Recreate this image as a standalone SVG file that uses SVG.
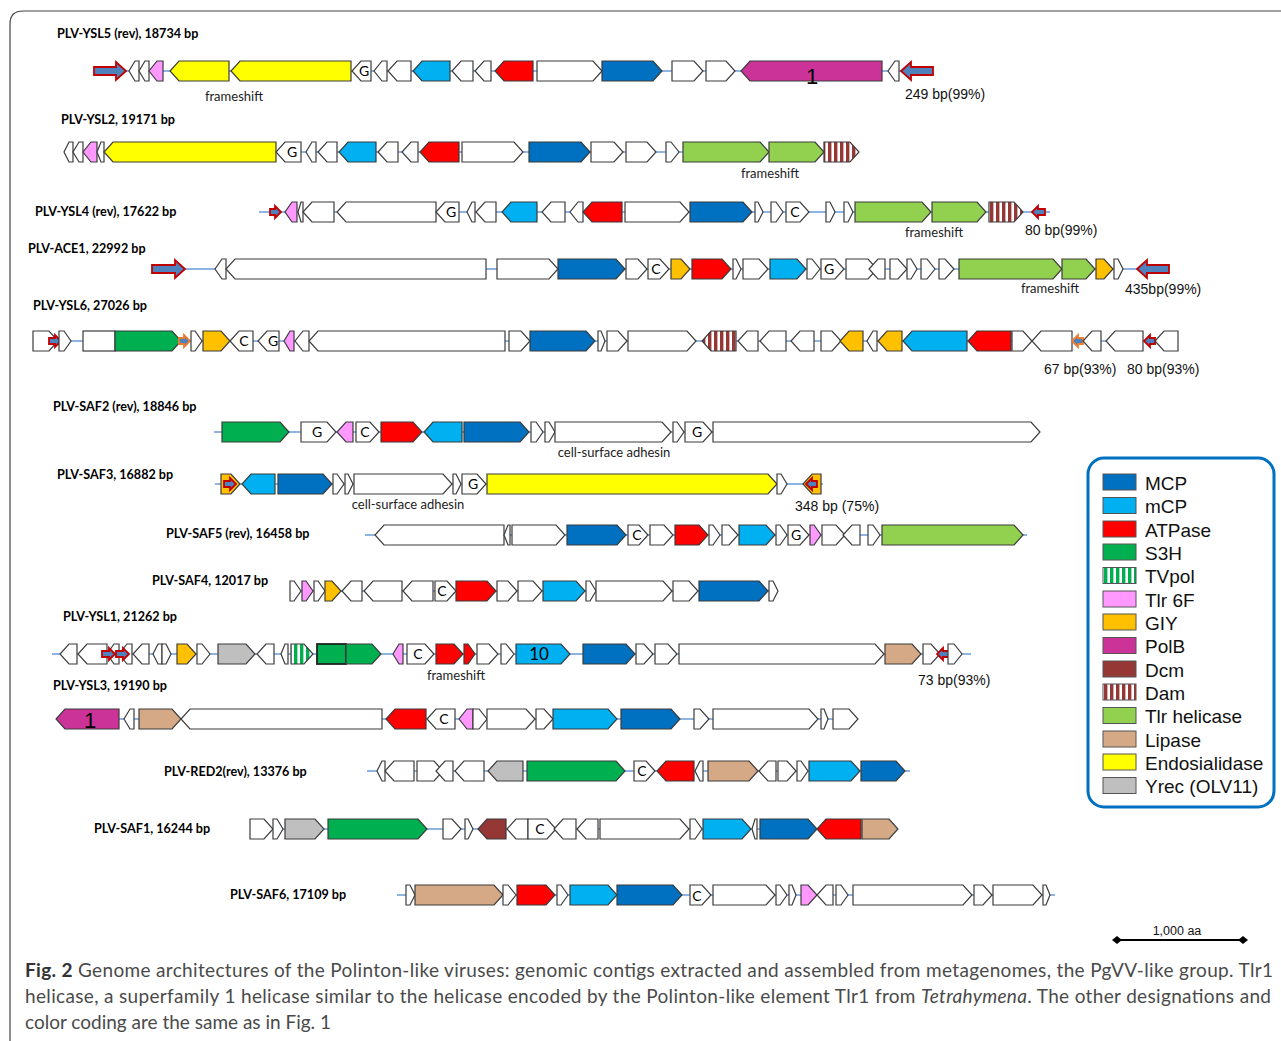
<svg xmlns="http://www.w3.org/2000/svg" width="1281" height="1041" viewBox="0 0 1281 1041">
<defs>
<pattern id="damp" width="6" height="40" patternUnits="userSpaceOnUse" x="0" y="0"><rect width="6" height="40" fill="#fff"/><rect width="3.4" height="40" fill="#953735"/></pattern>
<pattern id="tvp" width="6" height="40" patternUnits="userSpaceOnUse"><rect width="6" height="40" fill="#fff"/><rect width="3.4" height="40" fill="#00B050"/></pattern>
<marker id="dia" viewBox="-5 -5 10 10" markerWidth="10" markerHeight="10" refX="0" refY="0" markerUnits="userSpaceOnUse" orient="auto"><polygon points="-5,0 0,-4 5,0 0,4" fill="#000"/></marker>
<style>
.g{stroke:#3b3b3b;stroke-width:1.2;stroke-linejoin:miter}
.w{fill:#fff}.mcp{fill:#0070C0}.mcpl{fill:#00B0F0}.atp{fill:#FF0000}.s3h{fill:#00B050}.tv{fill:url(#tvp)}
.t6f{fill:#FF99FF}.giy{fill:#FFC000}.polb{fill:#CC3399}.dcm{fill:#953735}.dam{fill:url(#damp)}
.tlr{fill:#92D050}.lip{fill:#D5A985}.endo{fill:#FFFF00}.yrec{fill:#BFBFBF}
.ra{fill:#4F81BD;stroke:#C00000;stroke-width:1.8}
.oa{fill:#4F81BD;stroke:#ED7D31;stroke-width:1.8}
.bb line{stroke:#6A9BD8;stroke-width:1.5}
.ttl{font-family:Lato,"Liberation Sans",sans-serif;font-weight:bold;font-size:12.6px;fill:#000}
.fs{font-family:Lato,"Liberation Sans",sans-serif;font-size:13px;fill:#222;text-anchor:middle}
.num{font-family:"Liberation Sans",Arial,sans-serif;font-size:14px;fill:#111}
.gl{font-family:Lato,"Liberation Sans",sans-serif;font-size:14px;fill:#000;text-anchor:middle}
.big{font-family:"Liberation Sans",Arial,sans-serif;font-size:22px;fill:#000;text-anchor:middle}
.lg{font-family:"Liberation Sans",Arial,sans-serif;font-size:19px;fill:#111}
.sw{stroke:#555;stroke-width:1}
.cap{font-family:Lato,"Liberation Sans",sans-serif;font-size:19px;fill:#4a4a4a}
</style>
</defs>
<rect width="1281" height="1041" fill="#fff"/>
<path d="M10,1041V24Q10,11 23,11H1281" fill="none" stroke="#444" stroke-width="1.2"/>

<g id="backbones" class="bb">
<line x1="126" y1="71" x2="901" y2="71"/>
<line x1="64" y1="152" x2="859" y2="152"/>
<line x1="259" y1="212" x2="1050" y2="212"/>
<line x1="185" y1="269" x2="1137" y2="269"/>
<line x1="33" y1="341" x2="1178" y2="341"/>
<line x1="214" y1="432" x2="1040" y2="432"/>
<line x1="215" y1="484" x2="823" y2="484"/>
<line x1="365" y1="535" x2="1027" y2="535"/>
<line x1="290" y1="591" x2="778" y2="591"/>
<line x1="52" y1="654" x2="971" y2="654"/>
<line x1="56" y1="719" x2="858" y2="719"/>
<line x1="367" y1="771" x2="910" y2="771"/>
<line x1="250" y1="829" x2="898" y2="829"/>
<line x1="397" y1="895" x2="1055" y2="895"/>
</g>

<g id="row-YSL5">
<text class="ttl" x="57" y="38">PLV-YSL5 (rev), 18734 bp</text>
<text class="fs" x="234" y="101">frameshift</text>
<text class="num" x="905" y="99">249 bp(99%)</text>
<g transform="translate(0,71)">
<path class="ra" d="M94,-4H116V-9L126,0L116,9V4H94Z"/>
<polygon class="g w" points="139,-10 135,-10 129,0 135,10 139,10"/>
<polygon class="g w" points="149,-10 145,-10 139,0 145,10 149,10"/>
<polygon class="g t6f" points="163,-10 157,-10 149,0 157,10 163,10"/>
<polygon class="g endo" points="229,-10 179,-10 170,0 179,10 229,10"/>
<polygon class="g endo" points="351,-10 240,-10 231,0 240,10 351,10"/>
<polygon class="g w" points="371,-10 361,-10 352,0 361,10 371,10"/><text class="gl" x="364" y="5">G</text>
<polygon class="g w" points="387,-10 382,-10 374,0 382,10 387,10"/>
<polygon class="g w" points="411,-10 397,-10 388,0 397,10 411,10"/>
<polygon class="g mcpl" points="450,-10 422,-10 413,0 422,10 450,10"/>
<polygon class="g w" points="473,-10 461,-10 452,0 461,10 473,10"/>
<polygon class="g w" points="491,-10 484,-10 475,0 484,10 491,10"/>
<polygon class="g atp" points="533,-10 504,-10 495,0 504,10 533,10"/>
<polygon class="g w" points="537,-10 593,-10 602,0 593,10 537,10"/>
<polygon class="g mcp" points="602,-10 653,-10 662,0 653,10 602,10"/>
<polygon class="g w" points="672,-10 694,-10 703,0 694,10 672,10"/>
<polygon class="g w" points="706,-10 726,-10 735,0 726,10 706,10"/>
<polygon class="g polb" points="882,-10 750,-10 741,0 750,10 882,10"/><text class="big" x="812" y="13">1</text>
<polygon class="g w" points="899,-10 895,-10 888,0 895,10 899,10"/>
<path class="ra" d="M933,-4H911V-9L901,0L911,9V4H933Z"/>
</g>
</g>

<g id="row-YSL2">
<text class="ttl" x="61" y="124">PLV-YSL2, 19171 bp</text>
<text class="fs" x="770" y="178">frameshift</text>
<g transform="translate(0,152)">
<polygon class="g w" points="73,-10 69,-10 64,0 69,10 73,10"/>
<polygon class="g w" points="83,-10 79,-10 73,0 79,10 83,10"/>
<polygon class="g t6f" points="97,-10 91,-10 83,0 91,10 97,10"/>
<polygon class="g w" points="104,-10 101,-10 97,0 101,10 104,10"/>
<polygon class="g endo" points="276,-10 113,-10 104,0 113,10 276,10"/>
<polygon class="g w" points="301,-10 285,-10 276,0 285,10 301,10"/><text class="gl" x="292" y="5">G</text>
<polygon class="g w" points="316,-10 312,-10 306,0 312,10 316,10"/>
<polygon class="g w" points="337,-10 327,-10 318,0 327,10 337,10"/>
<polygon class="g mcpl" points="376,-10 348,-10 339,0 348,10 376,10"/>
<polygon class="g w" points="398,-10 387,-10 378,0 387,10 398,10"/>
<polygon class="g w" points="418,-10 411,-10 402,0 411,10 418,10"/>
<polygon class="g atp" points="459,-10 429,-10 420,0 429,10 459,10"/>
<polygon class="g w" points="462,-10 514,-10 523,0 514,10 462,10"/>
<polygon class="g mcp" points="529,-10 581,-10 590,0 581,10 529,10"/>
<polygon class="g w" points="591,-10 614,-10 623,0 614,10 591,10"/>
<polygon class="g w" points="626,-10 647,-10 656,0 647,10 626,10"/>
<polygon class="g w" points="666,-10 671,-10 679,0 671,10 666,10"/>
<polygon class="g tlr" points="683,-10 760,-10 769,0 760,10 683,10"/>
<polygon class="g tlr" points="769,-10 815,-10 824,0 815,10 769,10"/>
<polygon class="g dam" points="824,-10 850,-10 859,0 850,10 824,10"/>
</g>
</g>

<g id="row-YSL4">
<text class="ttl" x="35" y="216">PLV-YSL4 (rev), 17622 bp</text>
<text class="fs" x="934" y="237">frameshift</text>
<text class="num" x="1025" y="235">80 bp(99%)</text>
<g transform="translate(0,212)">
<path class="ra" d="M270,-3H275V-6L281,0L275,6V3H270Z"/>
<polygon class="g t6f" points="297,-10 292,-10 285,0 292,10 297,10"/>
<polygon class="g w" points="303,-10 301,-10 298,0 301,10 303,10"/>
<polygon class="g w" points="334,-10 312,-10 303,0 312,10 334,10"/>
<polygon class="g w" points="436,-10 346,-10 337,0 346,10 436,10"/>
<polygon class="g w" points="459,-10 445,-10 436,0 445,10 459,10"/><text class="gl" x="451" y="5">G</text>
<polygon class="g w" points="475,-10 472,-10 467,0 472,10 475,10"/>
<polygon class="g w" points="496,-10 485,-10 476,0 485,10 496,10"/>
<polygon class="g mcpl" points="537,-10 511,-10 502,0 511,10 537,10"/>
<polygon class="g w" points="565,-10 551,-10 542,0 551,10 565,10"/>
<polygon class="g w" points="583,-10 578,-10 570,0 578,10 583,10"/>
<polygon class="g atp" points="622,-10 592,-10 583,0 592,10 622,10"/>
<polygon class="g w" points="625,-10 680,-10 689,0 680,10 625,10"/>
<polygon class="g mcp" points="690,-10 743,-10 752,0 743,10 690,10"/>
<polygon class="g w" points="755,-10 758,-10 763,0 758,10 755,10"/>
<polygon class="g w" points="771,-10 776,-10 783,0 776,10 771,10"/>
<polygon class="g w" points="786,-10 800,-10 809,0 800,10 786,10"/><text class="gl" x="795" y="5">C</text>
<polygon class="g w" points="826,-10 830,-10 835,0 830,10 826,10"/>
<polygon class="g w" points="844,-10 848,-10 853,0 848,10 844,10"/>
<polygon class="g tlr" points="855,-10 922,-10 931,0 922,10 855,10"/>
<polygon class="g tlr" points="932,-10 977,-10 986,0 977,10 932,10"/>
<polygon class="g dam" points="989,-10 1014,-10 1023,0 1014,10 989,10"/>
<path class="ra" d="M1045,-3H1038V-6L1032,0L1038,6V3H1045Z"/>
</g>
</g>

<g id="row-ACE1">
<text class="ttl" x="28" y="253">PLV-ACE1, 22992 bp</text>
<text class="fs" x="1050" y="293">frameshift</text>
<text class="num" x="1125" y="294">435bp(99%)</text>
<g transform="translate(0,269)">
<path class="ra" d="M152,-4H175V-9L185,0L175,9V4H152Z"/>
<polygon class="g w" points="226,-10 222,-10 215,0 222,10 226,10"/>
<polygon class="g w" points="486,-10 235,-10 226,0 235,10 486,10"/>
<polygon class="g w" points="497,-10 549,-10 558,0 549,10 497,10"/>
<polygon class="g mcp" points="558,-10 616,-10 625,0 616,10 558,10"/>
<polygon class="g w" points="626,-10 638,-10 647,0 638,10 626,10"/>
<polygon class="g w" points="648,-10 660,-10 669,0 660,10 648,10"/><text class="gl" x="656" y="5">C</text>
<polygon class="g giy" points="671,-10 681,-10 690,0 681,10 671,10"/>
<polygon class="g atp" points="692,-10 722,-10 731,0 722,10 692,10"/>
<polygon class="g w" points="733,-10 736,-10 741,0 736,10 733,10"/>
<polygon class="g w" points="743,-10 759,-10 768,0 759,10 743,10"/>
<polygon class="g mcpl" points="770,-10 797,-10 806,0 797,10 770,10"/>
<polygon class="g w" points="807,-10 812,-10 820,0 812,10 807,10"/>
<polygon class="g w" points="821,-10 835,-10 844,0 835,10 821,10"/><text class="gl" x="829" y="5">G</text>
<polygon class="g w" points="846,-10 868,-10 877,0 868,10 846,10"/>
<polygon class="g w" points="885,-10 878,-10 869,0 878,10 885,10"/>
<polygon class="g w" points="890,-10 898,-10 907,0 898,10 890,10"/>
<polygon class="g w" points="907,-10 911,-10 917,0 911,10 907,10"/>
<polygon class="g w" points="921,-10 927,-10 935,0 927,10 921,10"/>
<polygon class="g w" points="939,-10 945,-10 954,0 945,10 939,10"/>
<polygon class="g tlr" points="959,-10 1053,-10 1062,0 1053,10 959,10"/>
<polygon class="g tlr" points="1062,-10 1086,-10 1095,0 1086,10 1062,10"/>
<polygon class="g giy" points="1096,-10 1104,-10 1113,0 1104,10 1096,10"/>
<polygon class="g w" points="1114,-10 1118,-10 1123,0 1118,10 1114,10"/>
<path class="ra" d="M1169,-4H1147V-9L1137,0L1147,9V4H1169Z"/>
</g>
</g>

<g id="row-YSL6">
<text class="ttl" x="33" y="310">PLV-YSL6, 27026 bp</text>
<text class="num" x="1044" y="374">67 bp(93%)</text>
<text class="num" x="1127" y="374">80 bp(93%)</text>
<g transform="translate(0,341)">
<polygon class="g w" points="33,-10 49,-10 58,0 49,10 33,10"/>
<path class="ra" d="M49,-3H55V-6L61,0L55,6V3H49Z"/>
<polygon class="g w" points="59,-10 64,-10 71,0 64,10 59,10"/>
<rect class="g w" x="83" y="-10" width="32" height="20"/>
<polygon class="g s3h" points="115,-10 172,-10 181,0 172,10 115,10"/>
<path class="oa" d="M179,-3H184V-6L190,0L184,6V3H179Z"/>
<polygon class="g w" points="191,-10 195,-10 202,0 195,10 191,10"/>
<polygon class="g giy" points="203,-10 221,-10 230,0 221,10 203,10"/>
<polygon class="g w" points="253,-10 239,-10 230,0 239,10 253,10"/><text class="gl" x="244" y="5">C</text>
<polygon class="g w" points="279,-10 267,-10 258,0 267,10 279,10"/><text class="gl" x="273" y="5">G</text>
<polygon class="g t6f" points="294,-10 290,-10 284,0 290,10 294,10"/>
<polygon class="g w" points="309,-10 303,-10 295,0 303,10 309,10"/>
<polygon class="g w" points="505,-10 318,-10 309,0 318,10 505,10"/>
<polygon class="g w" points="509,-10 521,-10 530,0 521,10 509,10"/>
<polygon class="g mcp" points="530,-10 586,-10 595,0 586,10 530,10"/>
<polygon class="g w" points="598,-10 601,-10 605,0 601,10 598,10"/>
<polygon class="g w" points="607,-10 618,-10 627,0 618,10 607,10"/>
<polygon class="g w" points="628,-10 687,-10 696,0 687,10 628,10"/>
<polygon class="g dam" points="736,-10 711,-10 702,0 711,10 736,10"/>
<polygon class="g w" points="758,-10 747,-10 738,0 747,10 758,10"/>
<polygon class="g w" points="786,-10 769,-10 760,0 769,10 786,10"/>
<polygon class="g w" points="814,-10 800,-10 791,0 800,10 814,10"/>
<polygon class="g w" points="821,-10 832,-10 841,0 832,10 821,10"/>
<polygon class="g giy" points="863,-10 849,-10 840,0 849,10 863,10"/>
<polygon class="g w" points="877,-10 873,-10 867,0 873,10 877,10"/>
<polygon class="g giy" points="902,-10 887,-10 878,0 887,10 902,10"/>
<polygon class="g mcpl" points="967,-10 912,-10 903,0 912,10 967,10"/>
<polygon class="g atp" points="1011,-10 977,-10 968,0 977,10 1011,10"/>
<polygon class="g w" points="1012,-10 1023,-10 1032,0 1023,10 1012,10"/>
<polygon class="g w" points="1072,-10 1041,-10 1032,0 1041,10 1072,10"/>
<path class="oa" d="M1083,-3H1078V-6L1072,0L1078,6V3H1083Z"/>
<polygon class="g w" points="1101,-10 1092,-10 1083,0 1092,10 1101,10"/>
<polygon class="g w" points="1143,-10 1115,-10 1106,0 1115,10 1143,10"/>
<path class="ra" d="M1155,-3H1150V-6L1144,0L1150,6V3H1155Z"/>
<polygon class="g w" points="1178,-10 1164,-10 1155,0 1164,10 1178,10"/>
</g>
</g>

<g id="row-SAF2">
<text class="ttl" x="53" y="411">PLV-SAF2 (rev), 18846 bp</text>
<text class="fs" x="614" y="457">cell-surface adhesin</text>
<g transform="translate(0,432)">
<polygon class="g s3h" points="222,-10 280,-10 289,0 280,10 222,10"/>
<polygon class="g w" points="301,-10 327,-10 336,0 327,10 301,10"/><text class="gl" x="317" y="5">G</text>
<polygon class="g t6f" points="353,-10 346,-10 337,0 346,10 353,10"/>
<polygon class="g w" points="356,-10 370,-10 379,0 370,10 356,10"/><text class="gl" x="365" y="5">C</text>
<polygon class="g atp" points="381,-10 413,-10 422,0 413,10 381,10"/>
<polygon class="g mcpl" points="462,-10 433,-10 424,0 433,10 462,10"/>
<polygon class="g mcp" points="464,-10 520,-10 529,0 520,10 464,10"/>
<polygon class="g w" points="531,-10 536,-10 543,0 536,10 531,10"/>
<polygon class="g w" points="545,-10 549,-10 555,0 549,10 545,10"/>
<polygon class="g w" points="555,-10 662,-10 671,0 662,10 555,10"/>
<polygon class="g w" points="673,-10 677,-10 684,0 677,10 673,10"/>
<polygon class="g w" points="685,-10 703,-10 712,0 703,10 685,10"/><text class="gl" x="697" y="5">G</text>
<polygon class="g w" points="713,-10 1031,-10 1040,0 1031,10 713,10"/>
</g>
</g>

<g id="row-SAF3">
<text class="ttl" x="57" y="479">PLV-SAF3, 16882 bp</text>
<text class="fs" x="408" y="509">cell-surface adhesin</text>
<text class="num" x="795" y="511">348 bp (75%)</text>
<g transform="translate(0,484)">
<polygon class="g giy" points="221,-10 231,-10 240,0 231,10 221,10"/>
<path class="ra" d="M224,-3H230V-6L236,0L230,6V3H224Z"/>
<polygon class="g mcpl" points="275,-10 251,-10 242,0 251,10 275,10"/>
<polygon class="g mcp" points="278,-10 323,-10 332,0 323,10 278,10"/>
<polygon class="g w" points="333,-10 337,-10 344,0 337,10 333,10"/>
<polygon class="g w" points="345,-10 348,-10 353,0 348,10 345,10"/>
<polygon class="g w" points="354,-10 443,-10 452,0 443,10 354,10"/>
<polygon class="g w" points="453,-10 456,-10 461,0 456,10 453,10"/>
<polygon class="g w" points="462,-10 477,-10 486,0 477,10 462,10"/><text class="gl" x="473" y="5">G</text>
<polygon class="g endo" points="487,-10 768,-10 777,0 768,10 487,10"/>
<polygon class="g w" points="777,-10 781,-10 787,0 781,10 777,10"/>
<polygon class="g giy" points="821,-10 812,-10 803,0 812,10 821,10"/>
<path class="ra" d="M817,-3H812V-6L806,0L812,6V3H817Z"/>
</g>
</g>

<g id="row-SAF5">
<text class="ttl" x="166" y="538">PLV-SAF5 (rev), 16458 bp</text>
<g transform="translate(0,535)">
<polygon class="g w" points="504,-10 384,-10 375,0 384,10 504,10"/>
<polygon class="g w" points="510,-10 508,-10 504,0 508,10 510,10"/>
<polygon class="g w" points="512,-10 556,-10 565,0 556,10 512,10"/>
<polygon class="g mcp" points="567,-10 617,-10 626,0 617,10 567,10"/>
<polygon class="g w" points="628,-10 639,-10 648,0 639,10 628,10"/><text class="gl" x="637" y="5">C</text>
<polygon class="g w" points="650,-10 664,-10 673,0 664,10 650,10"/>
<polygon class="g atp" points="675,-10 699,-10 708,0 699,10 675,10"/>
<polygon class="g w" points="709,-10 713,-10 720,0 713,10 709,10"/>
<polygon class="g w" points="722,-10 729,-10 738,0 729,10 722,10"/>
<polygon class="g mcpl" points="739,-10 766,-10 775,0 766,10 739,10"/>
<polygon class="g w" points="776,-10 780,-10 787,0 780,10 776,10"/>
<polygon class="g w" points="788,-10 800,-10 809,0 800,10 788,10"/><text class="gl" x="796" y="5">G</text>
<polygon class="g t6f" points="810,-10 814,-10 821,0 814,10 810,10"/>
<polygon class="g w" points="822,-10 836,-10 845,0 836,10 822,10"/>
<polygon class="g w" points="860,-10 852,-10 843,0 852,10 860,10"/>
<polygon class="g w" points="868,-10 873,-10 880,0 873,10 868,10"/>
<polygon class="g tlr" points="882,-10 1014,-10 1023,0 1014,10 882,10"/>
</g>
</g>

<g id="row-SAF4">
<text class="ttl" x="152" y="585">PLV-SAF4, 12017 bp</text>
<g transform="translate(0,591)">
<polygon class="g w" points="290,-10 294,-10 301,0 294,10 290,10"/>
<polygon class="g t6f" points="302,-10 306,-10 313,0 306,10 302,10"/>
<polygon class="g w" points="314,-10 318,-10 325,0 318,10 314,10"/>
<polygon class="g giy" points="325,-10 332,-10 341,0 332,10 325,10"/>
<polygon class="g w" points="362,-10 351,-10 342,0 351,10 362,10"/>
<polygon class="g w" points="402,-10 373,-10 364,0 373,10 402,10"/>
<polygon class="g w" points="433,-10 412,-10 403,0 412,10 433,10"/>
<polygon class="g w" points="435,-10 447,-10 456,0 447,10 435,10"/><text class="gl" x="442" y="5">C</text>
<polygon class="g atp" points="456,-10 487,-10 496,0 487,10 456,10"/>
<polygon class="g w" points="497,-10 508,-10 517,0 508,10 497,10"/>
<polygon class="g w" points="518,-10 533,-10 542,0 533,10 518,10"/>
<polygon class="g mcpl" points="543,-10 576,-10 585,0 576,10 543,10"/>
<polygon class="g w" points="586,-10 590,-10 596,0 590,10 586,10"/>
<polygon class="g w" points="596,-10 663,-10 672,0 663,10 596,10"/>
<polygon class="g w" points="673,-10 689,-10 698,0 689,10 673,10"/>
<polygon class="g mcp" points="699,-10 759,-10 768,0 759,10 699,10"/>
<polygon class="g w" points="769,-10 773,-10 778,0 773,10 769,10"/>
</g>
</g>

<g id="row-YSL1">
<text class="ttl" x="63" y="621">PLV-YSL1, 21262 bp</text>
<text class="fs" x="456" y="680">frameshift</text>
<text class="num" x="918" y="685">73 bp(93%)</text>
<g transform="translate(0,654)">
<polygon class="g w" points="77,-10 69,-10 60,0 69,10 77,10"/>
<polygon class="g w" points="107,-10 87,-10 78,0 87,10 107,10"/>
<polygon class="g w" points="119,-10 114,-10 107,0 114,10 119,10"/>
<polygon class="g w" points="132,-10 127,-10 119,0 127,10 132,10"/>
<path class="ra" d="M102,-3H109V-6L115,0L109,6V3H102Z"/>
<path class="ra" d="M116,-3H123V-6L129,0L123,6V3H116Z"/>
<polygon class="g w" points="149,-10 142,-10 133,0 142,10 149,10"/>
<polygon class="g w" points="162,-10 158,-10 153,0 158,10 162,10"/>
<polygon class="g w" points="162,-10 166,-10 171,0 166,10 162,10"/>
<polygon class="g giy" points="177,-10 187,-10 196,0 187,10 177,10"/>
<polygon class="g w" points="197,-10 202,-10 210,0 202,10 197,10"/>
<polygon class="g yrec" points="218,-10 246,-10 255,0 246,10 218,10"/>
<polygon class="g w" points="274,-10 266,-10 257,0 266,10 274,10"/>
<polygon class="g w" points="288,-10 285,-10 281,0 285,10 288,10"/>
<polygon class="g tv" points="291,-10 304,-10 313,0 304,10 291,10"/>
<rect class="s3h" x="317" y="-10" width="29" height="20" stroke="#222" stroke-width="1.8"/>
<polygon class="g s3h" points="346,-10 372,-10 381,0 372,10 346,10"/>
<polygon class="g t6f" points="403,-10 399,-10 393,0 399,10 403,10"/>
<polygon class="g w" points="407,-10 425,-10 434,0 425,10 407,10"/><text class="gl" x="418" y="5">C</text>
<polygon class="g atp" points="436,-10 454,-10 463,0 454,10 436,10"/>
<polygon class="g atp" points="464,-10 468,-10 475,0 468,10 464,10"/>
<polygon class="g w" points="477,-10 489,-10 498,0 489,10 477,10"/>
<polygon class="g w" points="501,-10 506,-10 514,0 506,10 501,10"/>
<polygon class="g mcpl" points="516,-10 561,-10 570,0 561,10 516,10"/><text class="gl" x="539" y="6" style="font-size:17px">10</text>
<polygon class="g mcp" points="583,-10 626,-10 635,0 626,10 583,10"/>
<polygon class="g w" points="636,-10 644,-10 653,0 644,10 636,10"/>
<polygon class="g w" points="655,-10 668,-10 677,0 668,10 655,10"/>
<polygon class="g w" points="679,-10 875,-10 884,0 875,10 679,10"/>
<polygon class="g lip" points="885,-10 912,-10 921,0 912,10 885,10"/>
<polygon class="g w" points="923,-10 931,-10 940,0 931,10 923,10"/>
<path class="ra" d="M951,-3H943V-6L937,0L943,6V3H951Z"/>
<polygon class="g w" points="948,-10 954,-10 962,0 954,10 948,10"/>
</g>
</g>

<g id="row-YSL3">
<text class="ttl" x="53" y="690">PLV-YSL3, 19190 bp</text>
<g transform="translate(0,719)">
<polygon class="g polb" points="119,-10 65,-10 56,0 65,10 119,10"/><text class="big" x="90" y="9">1</text>
<polygon class="g w" points="134,-10 130,-10 124,0 130,10 134,10"/>
<polygon class="g lip" points="139,-10 172,-10 181,0 172,10 139,10"/>
<polygon class="g w" points="382,-10 190,-10 181,0 190,10 382,10"/>
<polygon class="g atp" points="426,-10 395,-10 386,0 395,10 426,10"/>
<polygon class="g w" points="455,-10 436,-10 427,0 436,10 455,10"/><text class="gl" x="444" y="5">C</text>
<polygon class="g t6f" points="473,-10 467,-10 459,0 467,10 473,10"/>
<polygon class="g w" points="473,-10 479,-10 487,0 479,10 473,10"/>
<polygon class="g w" points="487,-10 526,-10 535,0 526,10 487,10"/>
<polygon class="g w" points="536,-10 544,-10 553,0 544,10 536,10"/>
<polygon class="g mcpl" points="553,-10 608,-10 617,0 608,10 553,10"/>
<polygon class="g mcp" points="621,-10 671,-10 680,0 671,10 621,10"/>
<polygon class="g w" points="694,-10 700,-10 709,0 700,10 694,10"/>
<polygon class="g w" points="713,-10 809,-10 818,0 809,10 713,10"/>
<polygon class="g w" points="821,-10 824,-10 828,0 824,10 821,10"/>
<polygon class="g w" points="833,-10 849,-10 858,0 849,10 833,10"/>
</g>
</g>

<g id="row-RED2">
<text class="ttl" x="164" y="776">PLV-RED2(rev), 13376 bp</text>
<g transform="translate(0,771)">
<polygon class="g w" points="385,-10 382,-10 377,0 382,10 385,10"/>
<polygon class="g w" points="414,-10 394,-10 385,0 394,10 414,10"/>
<polygon class="g w" points="417,-10 434,-10 443,0 434,10 417,10"/>
<polygon class="g w" points="453,-10 445,-10 436,0 445,10 453,10"/>
<polygon class="g w" points="484,-10 464,-10 455,0 464,10 484,10"/>
<polygon class="g yrec" points="523,-10 497,-10 488,0 497,10 523,10"/>
<polygon class="g s3h" points="527,-10 616,-10 625,0 616,10 527,10"/>
<polygon class="g w" points="634,-10 646,-10 655,0 646,10 634,10"/><text class="gl" x="642" y="5">C</text>
<polygon class="g atp" points="694,-10 666,-10 657,0 666,10 694,10"/>
<polygon class="g w" points="703,-10 700,-10 695,0 700,10 703,10"/>
<polygon class="g lip" points="708,-10 749,-10 758,0 749,10 708,10"/>
<polygon class="g w" points="776,-10 768,-10 759,0 768,10 776,10"/>
<polygon class="g w" points="778,-10 787,-10 796,0 787,10 778,10"/>
<polygon class="g w" points="797,-10 801,-10 808,0 801,10 797,10"/>
<polygon class="g mcpl" points="809,-10 851,-10 860,0 851,10 809,10"/>
<polygon class="g mcp" points="861,-10 896,-10 905,0 896,10 861,10"/>
</g>
</g>

<g id="row-SAF1">
<text class="ttl" x="94" y="833">PLV-SAF1, 16244 bp</text>
<g transform="translate(0,829)">
<polygon class="g w" points="250,-10 264,-10 273,0 264,10 250,10"/>
<polygon class="g w" points="273,-10 277,-10 283,0 277,10 273,10"/>
<polygon class="g yrec" points="285,-10 315,-10 324,0 315,10 285,10"/>
<polygon class="g s3h" points="328,-10 418,-10 427,0 418,10 328,10"/>
<polygon class="g w" points="443,-10 452,-10 461,0 452,10 443,10"/>
<polygon class="g w" points="465,-10 468,-10 473,0 468,10 465,10"/>
<polygon class="g dcm" points="506,-10 487,-10 478,0 487,10 506,10"/>
<polygon class="g w" points="528,-10 516,-10 507,0 516,10 528,10"/>
<polygon class="g w" points="528,-10 547,-10 556,0 547,10 528,10"/><text class="gl" x="540" y="5">C</text>
<polygon class="g w" points="576,-10 563,-10 554,0 563,10 576,10"/>
<polygon class="g w" points="598,-10 586,-10 577,0 586,10 598,10"/>
<polygon class="g w" points="600,-10 680,-10 689,0 680,10 600,10"/>
<polygon class="g w" points="690,-10 695,-10 702,0 695,10 690,10"/>
<polygon class="g mcpl" points="703,-10 742,-10 751,0 742,10 703,10"/>
<polygon class="g w" points="757,-10 755,-10 752,0 755,10 757,10"/>
<polygon class="g mcp" points="760,-10 808,-10 817,0 808,10 760,10"/>
<polygon class="g atp" points="861,-10 826,-10 817,0 826,10 861,10"/>
<polygon class="g lip" points="862,-10 889,-10 898,0 889,10 862,10"/>
</g>
</g>

<g id="row-SAF6">
<text class="ttl" x="230" y="899">PLV-SAF6, 17109 bp</text>
<g transform="translate(0,895)">
<polygon class="g w" points="406,-10 410,-10 415,0 410,10 406,10"/>
<polygon class="g lip" points="415,-10 494,-10 503,0 494,10 415,10"/>
<polygon class="g w" points="503,-10 508,-10 516,0 508,10 503,10"/>
<polygon class="g atp" points="517,-10 546,-10 555,0 546,10 517,10"/>
<polygon class="g w" points="557,-10 561,-10 568,0 561,10 557,10"/>
<polygon class="g mcpl" points="570,-10 608,-10 617,0 608,10 570,10"/>
<polygon class="g mcp" points="617,-10 673,-10 682,0 673,10 617,10"/>
<polygon class="g w" points="690,-10 702,-10 711,0 702,10 690,10"/><text class="gl" x="697" y="6">C</text>
<polygon class="g w" points="713,-10 766,-10 775,0 766,10 713,10"/>
<polygon class="g w" points="776,-10 780,-10 787,0 780,10 776,10"/>
<polygon class="g w" points="789,-10 792,-10 796,0 792,10 789,10"/>
<polygon class="g t6f" points="801,-10 808,-10 817,0 808,10 801,10"/>
<polygon class="g w" points="833,-10 826,-10 817,0 826,10 833,10"/>
<polygon class="g w" points="836,-10 841,-10 848,0 841,10 836,10"/>
<polygon class="g w" points="853,-10 963,-10 972,0 963,10 853,10"/>
<polygon class="g w" points="974,-10 983,-10 992,0 983,10 974,10"/>
<polygon class="g w" points="993,-10 1033,-10 1042,0 1033,10 993,10"/>
<polygon class="g w" points="1043,-10 1046,-10 1050,0 1046,10 1043,10"/>
</g>
</g>

<g id="legend">
<rect x="1088" y="458" width="186" height="349" rx="16" fill="#fff" stroke="#0070C0" stroke-width="3"/>
<rect class="sw mcp" x="1103" y="474" width="33" height="16"/><text class="lg" x="1145" y="489.5">MCP</text>
<rect class="sw mcpl" x="1103" y="497.5" width="33" height="16"/><text class="lg" x="1145" y="513">mCP</text>
<rect class="sw atp" x="1103" y="521" width="33" height="16"/><text class="lg" x="1145" y="536.5">ATPase</text>
<rect class="sw s3h" x="1103" y="544" width="33" height="16"/><text class="lg" x="1145" y="559.5">S3H</text>
<rect class="sw tv" x="1103" y="567.5" width="33" height="16"/><text class="lg" x="1145" y="583">TVpol</text>
<rect class="sw t6f" x="1103" y="591" width="33" height="16"/><text class="lg" x="1145" y="606.5">Tlr 6F</text>
<rect class="sw giy" x="1103" y="614" width="33" height="16"/><text class="lg" x="1145" y="629.5">GIY</text>
<rect class="sw polb" x="1103" y="637.5" width="33" height="16"/><text class="lg" x="1145" y="653">PolB</text>
<rect class="sw dcm" x="1103" y="661" width="33" height="16"/><text class="lg" x="1145" y="676.5">Dcm</text>
<rect class="sw dam" x="1103" y="684" width="33" height="16"/><text class="lg" x="1145" y="699.5">Dam</text>
<rect class="sw tlr" x="1103" y="707.5" width="33" height="16"/><text class="lg" x="1145" y="723">Tlr helicase</text>
<rect class="sw lip" x="1103" y="731" width="33" height="16"/><text class="lg" x="1145" y="746.5">Lipase</text>
<rect class="sw endo" x="1103" y="754" width="33" height="16"/><text class="lg" x="1145" y="769.5">Endosialidase</text>
<rect class="sw yrec" x="1103" y="777.5" width="33" height="16"/><text class="lg" x="1145" y="793">Yrec (OLV11)</text>
</g>

<g id="scalebar">
<line x1="1117" y1="940" x2="1243" y2="940" stroke="#000" stroke-width="2" marker-start="url(#dia)" marker-end="url(#dia)"/>
<text x="1177" y="935" font-family="'Liberation Sans',Arial,sans-serif" font-size="12.5" text-anchor="middle" fill="#111">1,000 aa</text>
</g>

<g id="caption">
<text class="cap" x="25" y="977" textLength="1248" lengthAdjust="spacing"><tspan font-weight="bold" fill="#333">Fig. 2</tspan> Genome architectures of the Polinton-like viruses: genomic contigs extracted and assembled from metagenomes, the PgVV-like group. Tlr1</text>
<text class="cap" x="25" y="1003" textLength="1246" lengthAdjust="spacing">helicase, a superfamily 1 helicase similar to the helicase encoded by the Polinton-like element Tlr1 from <tspan font-style="italic">Tetrahymena</tspan>. The other designations and</text>
<text class="cap" x="25" y="1029">color coding are the same as in Fig. 1</text>
</g>
</svg>
